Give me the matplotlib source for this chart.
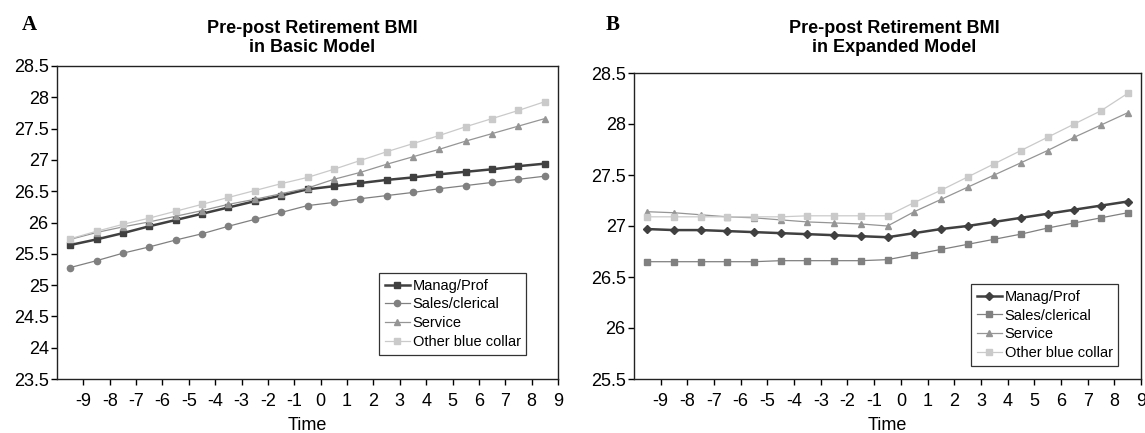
import numpy as np
import matplotlib
matplotlib.use("Agg")
import matplotlib.pyplot as plt

plt.rcParams['font.family'] = ['Liberation Sans', 'DejaVu Sans']

# time points (half years between the integer ticks)
time = np.arange(-9.5, 9.0, 1.0)
labels = ['Manag/Prof', 'Sales/clerical', 'Service', 'Other blue collar']

# panel A - basic model
basic_manag = [25.64, 25.73, 25.83, 25.94, 26.04, 26.14, 26.24, 26.34, 26.43, 26.53,
               26.58, 26.63, 26.68, 26.72, 26.77, 26.81, 26.85, 26.90, 26.94]
basic_sales = [25.28, 25.39, 25.51, 25.61, 25.72, 25.82, 25.94, 26.05, 26.16, 26.27,
               26.32, 26.38, 26.43, 26.48, 26.54, 26.59, 26.64, 26.69, 26.74]
basic_service = [25.73, 25.84, 25.93, 26.01, 26.10, 26.19, 26.29, 26.37, 26.46, 26.55,
                 26.69, 26.80, 26.93, 27.05, 27.17, 27.30, 27.42, 27.54, 27.66]
basic_other = [25.74, 25.86, 25.97, 26.07, 26.18, 26.29, 26.40, 26.51, 26.62, 26.72,
               26.85, 26.99, 27.13, 27.26, 27.39, 27.53, 27.66, 27.79, 27.93]

# panel B - expanded model
exp_manag = [26.97, 26.96, 26.96, 26.95, 26.94, 26.93, 26.92, 26.91, 26.90, 26.89,
             26.93, 26.97, 27.00, 27.04, 27.08, 27.12, 27.16, 27.20, 27.24]
exp_sales = [26.65, 26.65, 26.65, 26.65, 26.65, 26.66, 26.66, 26.66, 26.66, 26.67,
             26.72, 26.77, 26.82, 26.87, 26.92, 26.98, 27.03, 27.08, 27.13]
exp_service = [27.14, 27.13, 27.11, 27.09, 27.08, 27.06, 27.04, 27.03, 27.02, 27.00,
               27.14, 27.26, 27.38, 27.50, 27.62, 27.74, 27.87, 27.99, 28.11]
exp_other = [27.09, 27.09, 27.09, 27.09, 27.09, 27.09, 27.10, 27.10, 27.10, 27.10,
             27.23, 27.35, 27.48, 27.61, 27.74, 27.87, 28.00, 28.13, 28.30]

xticks = list(range(-9, 10))

fig = plt.figure(figsize=(11.45, 4.33), dpi=100)
axA = fig.add_axes([57/1145, 1-379/433, 501/1145, 313/433])
axB = fig.add_axes([634/1145, 1-379/433, 507/1145, 306/433])

def fmt(v):
    s = ('%.1f' % v)
    return s[:-2] if s.endswith('.0') else s

def style(ax, ymin, ymax):
    ax.set_xlim(-10, 9)
    ax.set_ylim(ymin, ymax)
    ax.set_xticks(xticks)
    ax.set_xticklabels([str(t) for t in xticks])
    yt = np.arange(ymin, ymax + 0.01, 0.5)
    ax.set_yticks(yt)
    ax.set_yticklabels([fmt(v) for v in yt])
    ax.tick_params(direction='out', length=4, width=1, labelsize=13, pad=2)
    ax.tick_params(axis='x', pad=6)
    for sp in ax.spines.values():
        sp.set_linewidth(1.0)
        sp.set_color('#222222')
    ax.set_xlabel('Time', fontsize=13, labelpad=5)

# panel A
axA.plot(time, basic_manag, color='#404040', lw=1.8, marker='s', ms=4.5, label=labels[0])
axA.plot(time, basic_sales, color='#808080', lw=0.9, marker='o', ms=4.5, label=labels[1])
axA.plot(time, basic_service, color='#959595', lw=0.9, marker='^', ms=4.5, label=labels[2])
axA.plot(time, basic_other, color='#cacaca', lw=0.9, marker='s', ms=4.5, label=labels[3])
style(axA, 23.5, 28.5)

# panel B
axB.plot(time, exp_manag, color='#404040', lw=1.8, marker='D', ms=4.5, label=labels[0])
axB.plot(time, exp_sales, color='#808080', lw=0.9, marker='s', ms=5, label=labels[1])
axB.plot(time, exp_service, color='#959595', lw=0.9, marker='^', ms=5, label=labels[2])
axB.plot(time, exp_other, color='#cacaca', lw=0.9, marker='s', ms=5, label=labels[3])
style(axB, 25.5, 28.5)

for ax, x0, y0 in [(axA, 379, 273), (axB, 971, 284)]:
    leg = ax.legend(loc='upper left', bbox_to_anchor=(x0/1145, 1-y0/433),
                    bbox_transform=fig.transFigure, fontsize=10.5, frameon=True,
                    fancybox=False, shadow=False, borderpad=0.4, labelspacing=0.32,
                    handlelength=1.7, handletextpad=0.2, borderaxespad=0)
    leg.get_frame().set_edgecolor('black')
    leg.get_frame().set_linewidth(0.9)

# titles
fig.text((57+558)/2/1145 + 0.004, 1-38/433, 'Pre-post Retirement BMI\nin Basic Model',
         ha='center', va='center', fontsize=13, fontweight='bold', linespacing=1.2)
fig.text((634+1141)/2/1145 + 0.006, 1-38/433, 'Pre-post Retirement BMI\nin Expanded Model',
         ha='center', va='center', fontsize=13, fontweight='bold', linespacing=1.2)

fig.text(29/1145, 1-25/433, 'A', ha='center', va='center', fontsize=15,
         fontweight='bold', family=['Liberation Serif', 'DejaVu Serif'])
fig.text(613/1145, 1-25/433, 'B', ha='center', va='center', fontsize=15,
         fontweight='bold', family=['Liberation Serif', 'DejaVu Serif'])

fig.savefig('out.png', dpi=100)
